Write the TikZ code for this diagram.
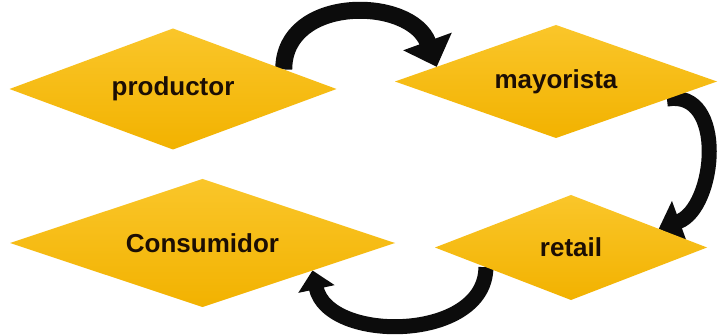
\documentclass[tikz,border=0pt]{standalone}
\usepackage{fontspec}
\setmainfont{Liberation Sans}
\usepackage{tikz}
\usetikzlibrary{shapes.geometric,arrows.meta,backgrounds}

\definecolor{oroA}{RGB}{250,198,42}
\definecolor{oroB}{RGB}{242,178,0}
\definecolor{letra}{RGB}{28,14,4}
\definecolor{negro}{RGB}{12,12,12}

\tikzset{
  rombo/.style={diamond, aspect=3, inner sep=0pt, outer sep=0pt,
    top color=oroA, bottom color=oroB, draw=none,
    font=\fontsize{26}{30}\selectfont\bfseries, text=letra},
  flecha/.style={line width=15pt, draw=negro,
    -{Triangle[length=22pt,width=42pt]}}
}

\begin{document}
\begin{tikzpicture}[x=1pt,y=1pt]
  \useasboundingbox (0,0) rectangle (718,335);
  % define the coordinates
  \coordinate (P) at (173,246);
  \coordinate (M) at (556,253.5);
  \coordinate (R) at (571,87.5);
  \coordinate (C) at (202.5,92);
  % draw the diamonds
  \node[rombo, minimum width=327pt, minimum height=121pt] (productor) at (P) {productor};
  \node[rombo, minimum width=322pt, minimum height=113pt] (mayorista) at (M) {mayorista};
  \node[rombo, minimum width=272pt, minimum height=105pt] (retail) at (R) {retail};
  \node[rombo, minimum width=385pt, minimum height=128pt] (consumidor) at (C) {Consumidor};

  % draw the arrows behind the diamonds
  \begin{pgfonlayer}{background}
    \fill[white] (0,0) rectangle (718,335);
    \draw[flecha, line width=17pt, -{Triangle[length=27pt,width=50pt]}]
      (productor.10) to[out=90, in=110, looseness=1.25] (mayorista.173);
    \draw[flecha] (mayorista.-9) to[out=10, in=20, looseness=1.2] (retail.12);
    \draw[flecha, -{Triangle[length=19pt,width=36pt]}]
      (retail.193) to[out=-90, in=-78, looseness=1.1] (consumidor.-14);
  \end{pgfonlayer}
\end{tikzpicture}
\end{document}
